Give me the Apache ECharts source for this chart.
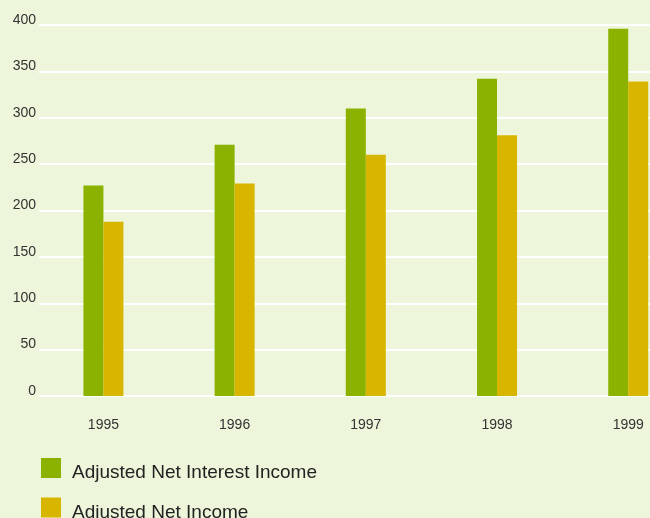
<!DOCTYPE html>
<html>
<head>
<meta charset="utf-8">
<script src="https://cdn.jsdelivr.net/npm/echarts@6/dist/echarts.min.js"></script>
<style>
  html, body { margin: 0; padding: 0; background: #edf6da; }
  #chart { width: 650px; height: 518px; }
</style>
</head>
<body>
<div id="chart"></div>
<script>
const years = [1995, 1996, 1997, 1998, 1999];
const netInterestIncome = [227, 271, 310, 342, 396];
const netIncome = [188, 229, 260, 281, 339];
const seriesNames = ['Adjusted Net Interest Income', 'Adjusted Net Income'];

const FONT = '"Liberation Sans", Arial, sans-serif';

const chart = echarts.init(document.getElementById('chart'));

function pairs(values) {
  return years.map((y, i) => [y, values[i]]);
}

chart.setOption({
  backgroundColor: '#edf6da',
  animation: false,
  grid: { left: 39, right: 0, top: 25, bottom: 122 },
  legend: {
    orient: 'vertical',
    left: 41,
    top: 458,
    height: 100,
    padding: 0,
    itemWidth: 20,
    itemHeight: 20,
    itemGap: 15,
    icon: 'rect',
    data: seriesNames,
    formatter: name => '{t|' + name + '}',
    textStyle: {
      fontFamily: FONT,
      fontSize: 19,
      color: '#222',
      rich: {
        t: { fontFamily: FONT, fontSize: 19, color: '#222', padding: [10, 0, 0, 6] }
      }
    }
  },
  xAxis: {
    type: 'value',
    min: 1994.509,
    max: 1999.166,
    axisLine: { show: false },
    axisTick: { show: false },
    splitLine: { show: false },
    axisLabel: {
      customValues: years,
      margin: 22,
      color: '#333',
      fontFamily: FONT,
      fontSize: 14,
      formatter: v => String(v)
    }
  },
  yAxis: {
    type: 'value',
    min: 0,
    max: 400,
    interval: 50,
    axisLine: { show: false },
    axisTick: { show: false },
    splitLine: { lineStyle: { color: '#ffffff', width: 2 } },
    axisLabel: {
      margin: 3,
      color: '#333',
      fontFamily: FONT,
      fontSize: 14,
      verticalAlign: 'bottom',
      lineHeight: 10
    }
  },
  series: [
    {
      name: seriesNames[0],
      type: 'bar',
      data: pairs(netInterestIncome),
      barWidth: 20,
      barGap: '0%',
      itemStyle: { color: '#8cb200' }
    },
    {
      name: seriesNames[1],
      type: 'bar',
      data: pairs(netIncome),
      barWidth: 20,
      barGap: '0%',
      itemStyle: { color: '#d8b600' }
    }
  ]
});
</script>
</body>
</html>
